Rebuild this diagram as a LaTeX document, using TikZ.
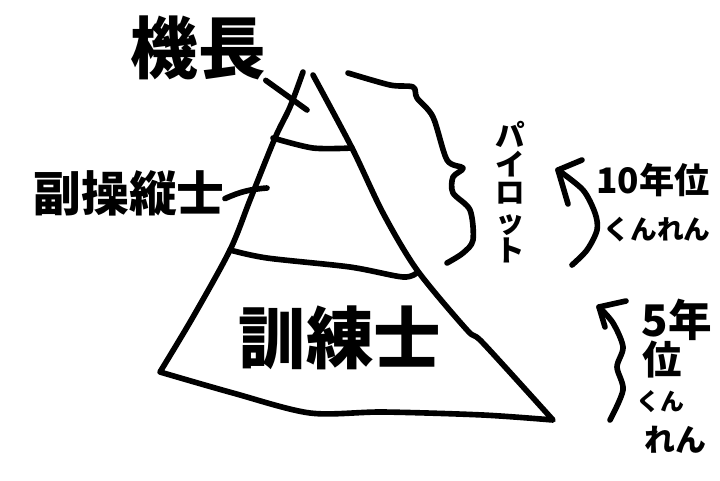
\documentclass[tikz,border=0pt]{standalone}
\usepackage{fontspec}
\newfontfamily\jp{Noto Sans CJK JP}

\begin{document}
\begin{tikzpicture}[x=0.025cm, y=-0.025cm,
    pen/.style={line width=4pt, line cap=round, line join=round},
    txt/.style={inner sep=0pt, font=\jp\bfseries}]
  \useasboundingbox (0,0) rectangle (720,480);

  % pyramid
  \draw[pen] plot[smooth] coordinates {(303,72) (290,107) (275,138) (250,200) (230,250) (193,317) (160,372)}
    -- plot[smooth] coordinates {(160,372) (233,393) (310,413) (383,412) (483,415) (553,420)}
    -- plot[smooth] coordinates {(553,420) (483,343) (467,330) (417,270) (383,213) (352,148) (313,75)};
  \draw[pen] plot[smooth] coordinates {(273,138) (313,148) (352,148)};
  \draw[pen] plot[smooth] coordinates {(230,250) (267,258) (350,267) (403,277) (418,272)};

  % labels
  \node[txt, font=\jp\bfseries\fontsize{48}{50}\selectfont] (cap) at (198,48) {機長};
  \node[txt, font=\jp\bfseries\fontsize{34}{36}\selectfont] (fo) at (129,193) {副操縦士};
  \node[txt, font=\jp\bfseries\fontsize{48}{50}\selectfont] (tr) at (340,338) {訓練士};
  \node[txt, align=center, font=\jp\bfseries\fontsize{21}{20.5}\selectfont] (pil) at (510,192) {パ\\イ\\ロ\\ッ\\ト};

  \coordinate (capend) at (307,110);
  \coordinate (foend) at (267,188);
  \draw[pen] (cap.south east) -- (capend);
  \draw[pen] ([yshift=-4pt]fo.east) to[bend left=10] (foend);

  % brace round the pilots
  \draw[pen] plot[smooth] coordinates {(348,73) (390,85) (413,87) (417,98) (433,117) (447,160) (463,168)
    (453,177) (453,193) (470,210) (473,240) (463,253) (447,263)};

  % ten years
  \node[txt, font=\jp\bfseries\fontsize{25}{27}\selectfont] (ten) at (653,180) {10年位};
  \node[txt, font=\jp\bfseries\fontsize{19}{21}\selectfont] (tenk) at (657,230) {くんれん};
  \coordinate (tena) at (572,265);
  \coordinate (tenb) at (558,170);
  \draw[pen] plot[smooth] coordinates {(tena) (587,250) (597,230) (595,213) (583,190) (tenb)};
  \draw[pen] (582,160) -- (tenb) -- (568,204);

  % five years
  \node[txt, font=\jp\bfseries\fontsize{31}{33}\selectfont] (five) at (677,320) {5年};
  \node[txt, font=\jp\bfseries\fontsize{28}{30}\selectfont] (fivei) at (662,360) {位};
  \node[txt, font=\jp\bfseries\fontsize{17}{19}\selectfont] (fivek) at (660,402) {くん};
  \node[txt, font=\jp\bfseries\fontsize{22}{24}\selectfont] (fiver) at (675,440) {れん};
  \coordinate (fivea) at (610,420);
  \coordinate (fiveb) at (599,307);
  \draw[pen] plot[smooth] coordinates {(fivea) (623,390) (617,367) (623,347) (613,323) (fiveb)};
  \draw[pen] (626,301) -- (fiveb) -- (605,327);
\end{tikzpicture}
\end{document}
